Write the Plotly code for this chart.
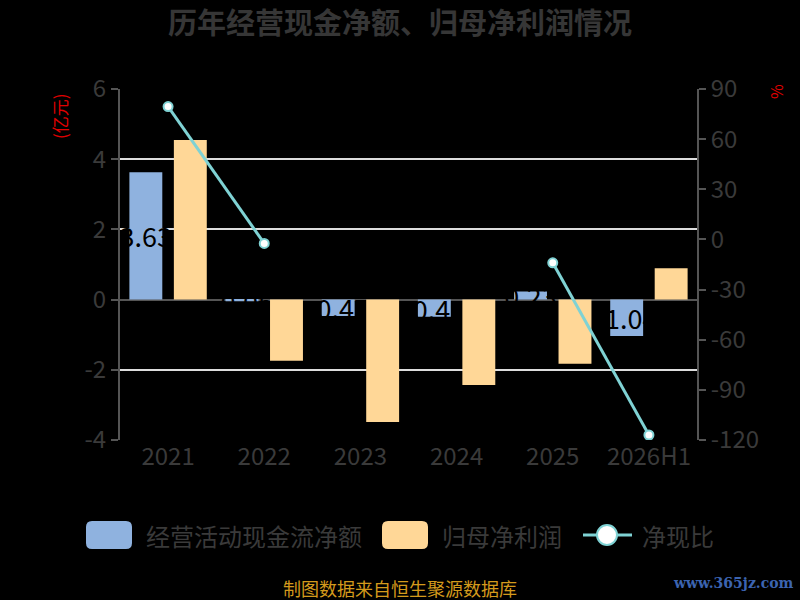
import plotly.graph_objects as go

# data
years = ["2021", "2022", "2023", "2024", "2025", "2026H1"]
cash_flow = [3.63, -0.05, -0.47, -0.49, 0.23, -1.04]      # 经营活动现金流净额 (亿元)
net_profit = [4.55, -1.74, -3.49, -2.43, -1.83, 0.89]     # 归母净利润 (亿元)
ratio = [79.5, -2.4, None, None, -14.0, -117.0]           # 净现比 (%)

left_ticks = [-4, -2, 0, 2, 4, 6]
right_ticks = [-120, -90, -60, -30, 0, 30, 60, 90]

FONT = "Noto Sans CJK SC"
GREY = "#3a3a3a"
BLUE = "#8fb2df"
ORANGE = "#ffd797"
TEAL = "#7fd2d4"

# plot area in pixels, used only to place the hand-drawn legend and notes
L, R, T, B = 120, 697, 89, 440
W, H = R - L, B - T


def px(x):
    return (x - L) / W


def py(y):
    return (B - y) / H


def rounded_rect(x0, y0, x1, y1, r=6):
    # path in paper coords, corners rounded by r pixels
    rx, ry = r / W, r / H
    a, b, c, d = px(x0), py(y1), px(x1), py(y0)
    return (f"M {a+rx},{b} L {c-rx},{b} Q {c},{b} {c},{b+ry} L {c},{d-ry} "
            f"Q {c},{d} {c-rx},{d} L {a+rx},{d} Q {a},{d} {a},{d-ry} "
            f"L {a},{b+ry} Q {a},{b} {a+rx},{b} Z")


fig = go.Figure()

fig.add_trace(go.Bar(
    x=years, y=cash_flow, name="经营活动现金流净额",
    marker=dict(color=BLUE, line=dict(width=0)),
    text=[f"{v:.2f}" for v in cash_flow], textposition="inside",
    insidetextanchor="middle", constraintext="none", textangle=0,
    textfont=dict(color="#000000", size=27, family=FONT),
))
fig.add_trace(go.Bar(
    x=years, y=net_profit, name="归母净利润",
    marker=dict(color=ORANGE, line=dict(width=0)),
))
fig.add_trace(go.Scatter(
    x=years, y=ratio, name="净现比", yaxis="y2", mode="lines+markers",
    connectgaps=False,
    line=dict(color=TEAL, width=3),
    marker=dict(size=9, color="white", line=dict(color=TEAL, width=2)),
))

fig.update_layout(
    width=800, height=600,
    paper_bgcolor="black", plot_bgcolor="black",
    margin=dict(l=L, r=800 - R, t=T, b=600 - B),
    font=dict(family=FONT, color=GREY, size=20),
    title=dict(text="<b>历年经营现金净额、归母净利润情况</b>", x=0.5, xanchor="center",
               y=0.96, yanchor="middle", font=dict(size=29, color="#363636", family=FONT)),
    barmode="group", bargap=0.075, bargroupgap=0.26,
    showlegend=False,
    xaxis=dict(type="category", showgrid=False, showline=False, ticks="",
               tickfont=dict(size=24, color=GREY)),
    yaxis=dict(range=[-4, 6], tickvals=left_ticks, ticktext=[str(t) for t in left_ticks],
               showgrid=True, gridcolor="#dddddd", gridwidth=1.5,
               zeroline=True, zerolinecolor="#555555", zerolinewidth=2,
               showline=True, linecolor="#555555", linewidth=2, ticks="outside",
               tickcolor="#555555", ticklen=7, tickwidth=2,
               tickfont=dict(size=24, color=GREY)),
    yaxis2=dict(range=[-120, 90], tickvals=right_ticks, ticktext=[str(t) for t in right_ticks],
                overlaying="y", side="right",
                showgrid=False, zeroline=False, showline=True, linecolor="#555555",
                linewidth=2, ticks="outside", tickcolor="#555555", ticklen=7, tickwidth=2,
                tickfont=dict(size=24, color=GREY)),
)

# legend drawn by hand to get the large rounded swatches
legend_y = 535
shapes = [
    dict(type="path", xref="paper", yref="paper", path=rounded_rect(86, 521, 132, 549),
         fillcolor=BLUE, line=dict(width=0)),
    dict(type="path", xref="paper", yref="paper", path=rounded_rect(382, 521, 428, 549),
         fillcolor=ORANGE, line=dict(width=0)),
    dict(type="line", xref="paper", yref="paper", x0=px(583), x1=px(632),
         y0=py(legend_y), y1=py(legend_y), line=dict(color=TEAL, width=3)),
    dict(type="circle", xref="paper", yref="paper", x0=px(597), x1=px(617),
         y0=py(545), y1=py(525), fillcolor="white", line=dict(color=TEAL, width=2)),
]
fig.update_layout(shapes=shapes)
for label, x0 in [("经营活动现金流净额", 144), ("归母净利润", 440), ("净现比", 640)]:
    fig.add_annotation(text=label, xref="paper", yref="paper", x=px(x0), y=py(legend_y),
                       xanchor="left", yanchor="middle", showarrow=False,
                       font=dict(size=24, color=GREY, family=FONT))

fig.add_annotation(text="(亿元)", xref="paper", yref="paper", x=px(60), y=py(116),
                   xanchor="center", yanchor="middle", textangle=-90, showarrow=False,
                   font=dict(size=17, color="#e00000", family=FONT))
fig.add_annotation(text="%", xref="paper", yref="paper", x=px(776), y=py(92),
                   xanchor="center", yanchor="middle", textangle=-90, showarrow=False,
                   font=dict(size=16, color="#e00000", family=FONT))
fig.add_annotation(text="制图数据来自恒生聚源数据库", xref="paper", yref="paper",
                   x=px(400), y=py(588), xanchor="center", yanchor="middle", showarrow=False,
                   font=dict(size=18, color="#d49a1c", family=FONT))
fig.add_annotation(text="<b>www.365jz.com</b>", xref="paper", yref="paper",
                   x=px(796), y=py(583), xanchor="right", yanchor="middle", showarrow=False,
                   font=dict(size=14, color="#3c64b0", family="DejaVu Serif"))

fig.write_html("out.html", config={"displayModeBar": False},
               post_script="document.body.style.margin='0';"
                           "document.body.style.background='black';")
